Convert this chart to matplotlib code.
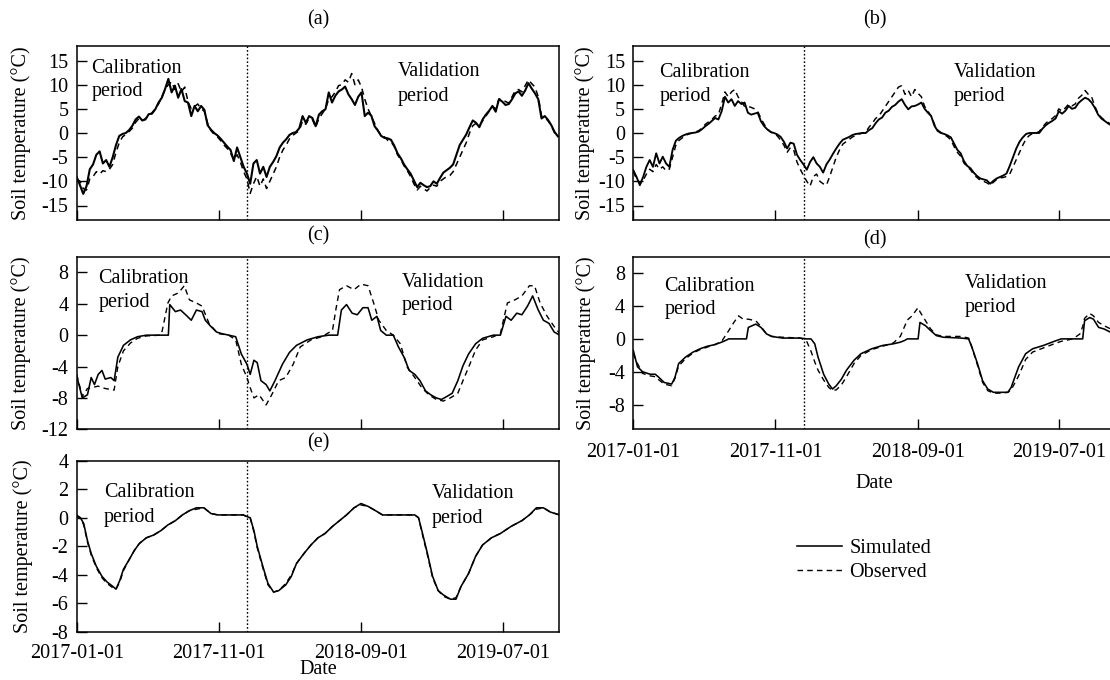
import numpy as np
import matplotlib
matplotlib.use("Agg")
import matplotlib.pyplot as plt

plt.rcParams["font.family"] = ["Liberation Serif", "DejaVu Serif"]
plt.rcParams["font.size"] = 14.5

START = np.datetime64("2017-01-01")
SPLIT = np.datetime64("2018-01-01")
X_END = np.datetime64("2019-10-30")
TICK_DATES = ["2017-01-01", "2017-11-01", "2018-09-01", "2019-07-01"]

# ---- (a) and (b): weekly values, day offsets from 2017-01-01 ----
week_days = list(range(0, 1030, 7))

a_sim = [-9.1, -10.8, -12.6, -11.0, -7.5, -6.5, -4.5, -3.8, -6.3, -5.6,
         -7.0, -5.0, -2.5, -0.6, -0.2, 0.0, 0.6, 1.5, 2.8, 3.4,
         2.6, 2.8, 3.9, 4.0, 4.9, 6.3, 7.3, 9.1, 11.2, 8.4,
         9.8, 7.3, 9.1, 6.6, 6.3, 3.5, 5.6, 4.5, 5.6, 4.8,
         1.6, 0.7, 0.0, -0.5, -1.2, -2.0, -2.8, -3.5, -5.8, -3.0,
         -5.0, -7.0, -8.4, -10.5, -6.3, -5.6, -8.4, -7.0, -9.1, -7.0,
         -6.0, -4.8, -3.0, -2.0, -1.3, -0.4, 0.0, 0.2, 1.0, 3.5,
         2.1, 3.5, 3.1, 1.4, 3.8, 4.5, 4.9, 8.4, 6.3, 7.7,
         8.6, 9.0, 9.6, 8.0, 7.0, 5.8, 7.5, 8.4, 3.5, 4.2,
         3.6, 1.4, 0.5, -0.6, -1.0, -1.1, -1.4, -2.6, -4.2, -5.2,
         -6.5, -7.5, -8.4, -9.8, -11.2, -10.3, -10.8, -11.2, -11.0, -10.0,
         -10.5, -9.3, -8.2, -7.7, -7.2, -6.5, -4.5, -2.5, -1.4, -0.3,
         1.2, 2.6, 2.1, 1.2, 2.8, 3.8, 4.6, 5.6, 4.4, 7.0,
         6.5, 5.8, 6.0, 7.0, 8.2, 8.6, 7.7, 8.8, 10.3, 9.2,
         8.2, 7.0, 3.0, 3.5, 2.7, 1.6, 0.2, -0.7]

a_obs = [-9.5, -10.0, -11.5, -11.8, -9.5, -9.0, -8.0, -8.5, -7.8, -8.0,
         -7.5, -6.5, -4.0, -2.0, -0.8, -0.3, 0.3, 1.0, 2.2, 3.0,
         2.5, 3.0, 3.5, 4.2, 5.0, 6.0, 7.5, 9.0, 10.0, 10.6,
         9.0, 10.2, 8.5, 9.5, 6.5, 5.0, 5.5, 6.0, 5.0, 4.5,
         2.0, 0.5, -0.3, -0.8, -1.6, -2.5, -3.2, -4.2, -5.5, -4.5,
         -6.0, -8.0, -9.5, -12.5, -10.5, -9.0, -11.0, -9.5, -11.5, -10.0,
         -8.5, -7.0, -5.0, -3.5, -2.5, -1.2, -0.5, 0.0, 0.5, 2.5,
         1.8, 3.0, 2.8, 1.2, 3.0, 4.0, 5.0, 7.0, 7.5, 8.5,
         9.8, 10.0, 11.0, 10.5, 12.3, 10.0, 11.0, 9.5, 7.0, 5.0,
         3.5, 2.0, 0.5, -0.5, -0.8, -1.5, -1.8, -2.8, -4.5, -5.5,
         -6.8, -7.8, -9.0, -10.5, -11.8, -11.0, -11.5, -12.0, -11.3, -10.8,
         -11.0, -10.0, -9.5, -9.0, -8.8, -8.0, -6.5, -5.0, -3.5, -2.0,
         0.0, 1.5, 2.0, 1.5, 2.5, 3.5, 4.5, 5.5, 5.0, 7.0,
         7.0, 6.5, 6.2, 7.5, 8.8, 9.0, 8.5, 9.8, 11.0, 10.2,
         9.5, 7.5, 3.5, 3.2, 2.5, 1.5, 0.0, -0.8]

b_sim = [-7.7, -9.1, -10.8, -9.1, -7.0, -5.6, -7.0, -4.2, -6.3, -4.9,
         -6.3, -7.0, -3.5, -1.6, -1.0, -0.6, -0.3, -0.1, 0.0, 0.1,
         0.3, 0.8, 1.4, 1.9, 2.5, 3.1, 2.8, 4.5, 7.5, 6.3,
         7.0, 5.6, 6.6, 6.0, 6.3, 4.2, 3.8, 4.0, 4.2, 2.4,
         1.4, 0.7, 0.2, 0.0, -0.3, -0.8, -1.8, -3.2, -2.0, -2.2,
         -4.5, -5.6, -6.5, -7.6, -6.0, -5.0, -6.3, -7.0, -8.2, -6.5,
         -5.5, -4.3, -3.2, -2.2, -1.4, -1.1, -0.8, -0.4, -0.2, -0.1,
         0.0, 0.0, 0.6, 1.0, 2.0, 2.8, 3.2, 4.2, 4.6, 5.4,
         5.8, 6.5, 7.0, 5.8, 4.9, 5.5, 5.6, 5.9, 6.3, 5.0,
         4.2, 3.5, 1.5, 0.4, 0.0, -0.2, -0.5, -0.9, -2.2, -3.5,
         -4.2, -5.8, -6.8, -7.3, -8.2, -8.9, -9.4, -9.6, -9.8, -10.5,
         -9.9, -9.4, -9.1, -8.8, -8.4, -6.8, -5.0, -3.2, -1.8, -0.9,
         -0.2, 0.0, 0.0, 0.0, 0.0, 0.9, 1.6, 2.1, 2.5, 3.0,
         4.5, 4.0, 4.6, 5.6, 5.0, 5.2, 6.2, 6.8, 7.3, 7.0,
         6.3, 5.2, 3.8, 3.0, 2.5, 2.0, 1.6, 1.2]

b_obs = [-8.0, -9.5, -10.5, -9.8, -8.5, -7.5, -8.0, -6.5, -7.5, -7.0,
         -7.8, -7.5, -5.0, -2.5, -1.5, -1.0, -0.5, -0.2, 0.0, 0.2,
         0.5, 1.0, 1.8, 2.3, 2.8, 3.5, 3.8, 6.0, 8.5, 7.5,
         8.5, 9.0, 7.5, 6.5, 5.5, 5.5, 5.3, 5.0, 4.5, 3.0,
         1.8, 0.8, 0.2, -0.2, -0.6, -1.5, -2.5, -4.0, -3.0, -3.5,
         -6.0, -7.5, -8.8, -10.0, -11.0, -9.0, -8.5, -10.0, -10.5, -10.8,
         -9.0, -7.0, -5.0, -3.5, -2.3, -1.8, -1.3, -0.8, -0.5, -0.2,
         0.0, 0.2, 1.2, 2.0, 3.0, 3.5, 4.5, 5.5, 6.5, 7.5,
         8.5, 9.5, 9.8, 8.0, 8.8, 7.5, 9.0, 8.2, 7.5, 5.5,
         4.5, 3.5, 1.8, 0.6, 0.1, -0.3, -0.8, -1.4, -2.8, -4.0,
         -4.8, -6.2, -7.0, -7.6, -8.6, -9.2, -9.8, -10.0, -10.3, -10.8,
         -10.2, -9.6, -9.3, -9.2, -9.0, -8.5, -7.0, -5.5, -4.0, -2.5,
         -1.2, -0.5, -0.1, 0.0, 0.3, 1.2, 2.0, 2.6, 3.0, 3.6,
         5.0, 4.5, 5.2, 6.0, 5.6, 6.0, 7.2, 7.8, 8.8, 8.0,
         7.5, 5.5, 4.0, 3.2, 2.6, 2.2, 1.8, 1.4]

# ---- (c) ----
c_sim_days = [0, 12, 23, 31, 38, 46, 54, 61, 73, 80,
              88, 100, 115, 130, 149, 180, 196, 199, 211, 222,
              233, 245, 256, 268, 275, 287, 299, 310, 325, 340,
              352, 364, 371, 379, 386, 394, 405, 413, 424, 440,
              455, 470, 493, 516, 539, 558, 566, 577, 589, 600,
              612, 623, 631, 642, 650, 662, 677, 688, 700, 711,
              723, 734, 746, 757, 769, 780, 792, 803, 815, 826,
              838, 853, 868, 891, 906, 918, 929, 941, 952, 964,
              975, 987, 998, 1010, 1021, 1033]
c_sim = [-5.2, -8.0, -7.6, -5.4, -6.3, -5.0, -4.5, -5.6, -5.4, -5.8,
         -2.8, -1.3, -0.6, -0.2, 0.0, 0.0, 0.0, 3.9, 3.0, 3.2,
         2.6, 1.9, 3.2, 3.0, 1.9, 1.1, 0.4, 0.2, 0.0, -0.2,
         -2.4, -3.7, -5.0, -3.2, -3.5, -5.8, -6.3, -7.1, -5.8, -3.7,
         -2.2, -1.3, -0.6, -0.2, 0.0, 0.0, 3.2, 3.9, 2.8, 2.6,
         3.5, 3.5, 1.9, 2.4, 0.6, 0.0, 0.0, -1.5, -2.8, -4.5,
         -5.0, -5.8, -7.1, -7.6, -8.0, -8.2, -7.8, -7.4, -5.8, -3.9,
         -2.4, -1.1, -0.4, 0.0, 0.0, 2.4, 1.9, 2.8, 2.6, 3.7,
         5.0, 3.2, 1.9, 1.5, 0.4, 0.0]

c_obs_days = [0, 12, 23, 46, 61, 80, 88, 100, 115, 130,
              149, 180, 183, 195, 203, 218, 230, 241, 256, 268,
              283, 302, 325, 340, 352, 364, 371, 379, 390, 405,
              417, 432, 447, 463, 478, 501, 524, 547, 554, 562,
              577, 593, 608, 623, 635, 646, 662, 677, 692, 707,
              723, 738, 753, 769, 784, 799, 815, 826, 838, 853,
              868, 891, 906, 921, 937, 952, 968, 979, 991, 1006,
              1021, 1033]
c_obs = [-5.0, -7.8, -6.8, -6.5, -6.8, -7.0, -4.0, -2.0, -1.0, -0.4,
         -0.1, 0.0, 0.6, 4.1, 5.0, 5.4, 6.3, 4.5, 4.1, 3.7,
         1.5, 0.2, 0.0, -0.6, -3.7, -5.4, -6.7, -8.0, -7.6, -8.9,
         -7.6, -5.8, -5.4, -3.7, -1.5, -0.6, -0.2, 0.6, 3.2, 5.8,
         6.3, 5.8, 6.5, 6.3, 4.1, 1.9, 0.6, 0.0, -1.1, -4.1,
         -5.4, -6.7, -7.6, -8.2, -8.4, -8.0, -7.4, -5.8, -4.1, -1.9,
         -0.6, -0.2, 0.2, 4.1, 4.5, 5.0, 6.3, 6.3, 4.1, 2.4,
         1.1, 0.2]

# ---- (d) ----
d_days = [0, 9, 20, 36, 47, 55, 66, 82, 89, 97,
          112, 128, 143, 158, 174, 189, 197, 204, 215, 225,
          235, 242, 246, 262, 273, 285, 296, 319, 357, 370,
          380, 388, 395, 407, 418, 426, 434, 445, 456, 472,
          487, 510, 533, 556, 571, 580, 586, 596, 605, 609,
          613, 625, 636, 648, 663, 701, 717, 724, 736, 747,
          758, 770, 785, 801, 808, 824, 839, 854, 877, 900,
          915, 940, 955, 961, 965, 976, 984, 995, 1007, 1021,
          1033]
d_sim = [-1.4, -3.4, -4.0, -4.3, -4.3, -4.7, -5.3, -5.5, -4.7, -3.0,
         -2.2, -1.6, -1.2, -0.9, -0.7, -0.4, -0.2, 0.0, 0.0, 0.0,
         0.0, 0.0, 1.4, 1.8, 1.4, 0.6, 0.3, 0.1, 0.1, 0.0,
         0.0, -0.6, -2.2, -4.3, -5.5, -6.1, -5.7, -4.9, -3.8, -2.6,
         -1.8, -1.2, -0.8, -0.6, -0.4, -0.2, 0.0, 0.0, 0.0, 0.0,
         2.0, 1.6, 1.0, 0.4, 0.2, 0.1, 0.0, -1.0, -3.0, -5.1,
         -6.1, -6.5, -6.5, -6.5, -5.9, -3.4, -1.8, -1.2, -0.8, -0.3,
         0.0, 0.0, 0.0, 0.0, 2.2, 2.6, 2.4, 1.4, 1.2, 0.8,
         0.6]
d_obs = [-1.8, -3.0, -4.2, -4.5, -4.6, -5.0, -5.5, -5.7, -4.8, -3.3,
         -2.4, -1.7, -1.3, -1.0, -0.7, -0.3, 0.4, 1.0, 2.0, 2.8,
         2.4, 2.4, 2.4, 2.2, 1.5, 0.6, 0.3, 0.2, 0.1, -0.2,
         -1.5, -2.8, -3.8, -5.0, -5.9, -6.3, -6.2, -5.6, -4.6, -3.0,
         -2.0, -1.3, -0.9, -0.5, 0.3, 1.5, 2.3, 2.8, 3.5, 3.8,
         3.3, 2.2, 1.2, 0.5, 0.3, 0.3, 0.1, -1.0, -3.2, -5.3,
         -6.3, -6.6, -6.6, -6.5, -6.2, -4.5, -2.5, -1.6, -1.1, -0.6,
         -0.3, 0.0, 0.6, 1.5, 2.5, 3.1, 2.8, 2.0, 1.6, 1.2,
         1.0]

# ---- (e) ----
e_days = [0, 8, 15, 23, 31, 42, 54, 65, 77, 84,
          92, 100, 111, 123, 134, 149, 165, 180, 195, 211,
          226, 241, 256, 272, 287, 302, 356, 363, 371, 379,
          386, 398, 409, 421, 432, 447, 459, 470, 486, 501,
          516, 531, 547, 562, 577, 593, 608, 623, 639, 654,
          677, 723, 731, 738, 750, 761, 773, 784, 799, 811,
          822, 838, 853, 868, 887, 906, 929, 952, 968, 983,
          998, 1013, 1033]
e_sim = [0.1, 0.0, -0.4, -1.6, -2.5, -3.4, -4.1, -4.5, -4.8, -5.0,
         -4.4, -3.6, -3.0, -2.3, -1.8, -1.4, -1.2, -0.9, -0.5, -0.2,
         0.2, 0.5, 0.7, 0.7, 0.3, 0.2, 0.2, 0.1, 0.0, -0.9,
         -2.0, -3.4, -4.6, -5.2, -5.1, -4.7, -4.1, -3.2, -2.5, -1.9,
         -1.4, -1.1, -0.6, -0.2, 0.2, 0.7, 1.0, 0.8, 0.5, 0.2,
         0.2, 0.2, 0.0, -0.9, -2.5, -4.1, -5.1, -5.4, -5.7, -5.7,
         -4.8, -3.9, -2.7, -1.9, -1.4, -1.1, -0.6, -0.2, 0.2, 0.7,
         0.7, 0.4, 0.2]
e_obs = [0.2, 0.0, -0.5, -1.7, -2.6, -3.5, -4.2, -4.6, -4.9, -5.0,
         -4.5, -3.7, -3.0, -2.3, -1.8, -1.4, -1.2, -0.9, -0.5, -0.2,
         0.2, 0.5, 0.6, 0.7, 0.3, 0.2, 0.2, 0.1, 0.0, -1.0,
         -2.1, -3.5, -4.7, -5.2, -5.1, -4.6, -4.0, -3.2, -2.5, -1.9,
         -1.4, -1.1, -0.6, -0.2, 0.2, 0.7, 0.9, 0.8, 0.5, 0.2,
         0.2, 0.2, 0.0, -1.0, -2.6, -4.2, -5.1, -5.5, -5.7, -5.6,
         -4.8, -3.9, -2.7, -1.9, -1.4, -1.1, -0.6, -0.2, 0.2, 0.6,
         0.7, 0.4, 0.2]

Y_LABEL = "Soil temperature (°C)"
W, H = 1110.0, 680.0


def to_dates(days):
    return START + np.asarray(days).astype("timedelta64[D]")


fig = plt.figure(figsize=(W / 100, H / 100), dpi=100)


def make_axes(left, top, right, bottom):
    return fig.add_axes([left / W, 1 - bottom / H, (right - left) / W, (bottom - top) / H])


def panel(box, sim_days, sim, obs_days, obs, ylim, yticks, title, title_y,
          cal_pos, val_pos, show_dates=False, date_pad=2.0, ylabel_x=22,
          sim_lw=1.15, obs_lw=1.0):
    left, top, right, bottom = box
    ax = make_axes(*box)
    l_sim, = ax.plot(to_dates(sim_days), sim, color="black", lw=sim_lw, zorder=3)
    l_obs, = ax.plot(to_dates(obs_days), obs, color="black", lw=obs_lw,
                     linestyle=(0, (4, 3)), zorder=2)
    ax.axvline(SPLIT, color="black", lw=1.0, linestyle=(0, (1.2, 1.5)), zorder=1)
    ax.set_xlim(START, X_END)
    ax.set_ylim(*ylim)
    ax.set_yticks(yticks)
    ax.set_yticklabels([str(t) for t in yticks])
    ax.set_xticks(to_dates([(np.datetime64(d) - START).astype(int) for d in TICK_DATES]))
    if show_dates:
        ax.set_xticklabels(TICK_DATES)
    else:
        ax.set_xticklabels([])
    ax.tick_params(direction="in", length=7, width=1.0, top=False, right=False)
    ax.tick_params(axis="y", pad=6)
    ax.tick_params(axis="x", pad=date_pad)
    for sp in ax.spines.values():
        sp.set_linewidth(1.1)
    hgt = bottom - top
    ax.text(0.5, 1 + (top - title_y) / hgt, title, transform=ax.transAxes,
            ha="center", va="center")
    for (x, y1, y2, word) in (cal_pos + ("Calibration",), val_pos + ("Validation",)):
        ax.text(x, y1, word, transform=ax.transAxes, ha="left", va="baseline")
        ax.text(x, y2, "period", transform=ax.transAxes, ha="left", va="baseline")
    fig.text(ylabel_x / W, 1 - (top + bottom) / 2 / H, Y_LABEL, rotation=90,
             ha="center", va="center")
    return ax, l_sim, l_obs


BOX_A = (76.7, 46, 559.3, 220)
BOX_B = (633.3, 46, 1115.9, 220)
BOX_C = (76.7, 256.7, 559.3, 429.3)
BOX_D = (633.3, 256.7, 1115.9, 429.3)
BOX_E = (76.7, 460.7, 559.3, 632)

panel(BOX_A, week_days, a_sim, week_days, a_obs, (-18, 18), list(range(-15, 16, 5)),
      "(a)", 20, (0.030, 0.843, 0.710), (0.666, 0.828, 0.684), ylabel_x=21,
      sim_lw=1.5, obs_lw=1.1)
panel(BOX_B, week_days, b_sim, week_days, b_obs, (-18, 18), list(range(-15, 16, 5)),
      "(b)", 20, (0.054, 0.824, 0.683), (0.664, 0.824, 0.683), ylabel_x=585,
      sim_lw=1.35, obs_lw=1.05)
panel(BOX_C, c_sim_days, c_sim, c_obs_days, c_obs, (-12, 10), list(range(-12, 9, 4)),
      "(c)", 236, (0.045, 0.846, 0.710), (0.674, 0.826, 0.691), ylabel_x=21)
ax_d, _, _ = panel(BOX_D, d_days, d_sim, d_days, d_obs, (-11, 10), list(range(-8, 9, 4)),
                   "(d)", 240, (0.064, 0.803, 0.668), (0.686, 0.817, 0.681),
                   show_dates=True, date_pad=10, ylabel_x=586)
ax_e, h_sim, h_obs = panel(BOX_E, e_days, e_sim, e_days, e_obs, (-8, 4), list(range(-8, 5, 2)),
                           "(e)", 443, (0.056, 0.790, 0.644), (0.736, 0.780, 0.634),
                           show_dates=True, date_pad=8.5, ylabel_x=23)

fig.text((BOX_D[0] + BOX_D[2]) / 2 / W, 1 - 484 / H, "Date", ha="center", va="center")
fig.text((BOX_E[0] + BOX_E[2]) / 2 / W, 1 - 670 / H, "Date", ha="center", va="center")

fig.legend([h_sim, h_obs], ["Simulated", "Observed"], loc="upper left",
           bbox_to_anchor=(797 / W, 1 - 539 / H), frameon=False,
           handlelength=2.25, handletextpad=0.35, labelspacing=0.25,
           borderpad=0, borderaxespad=0)

fig.savefig("out.png", dpi=100)
